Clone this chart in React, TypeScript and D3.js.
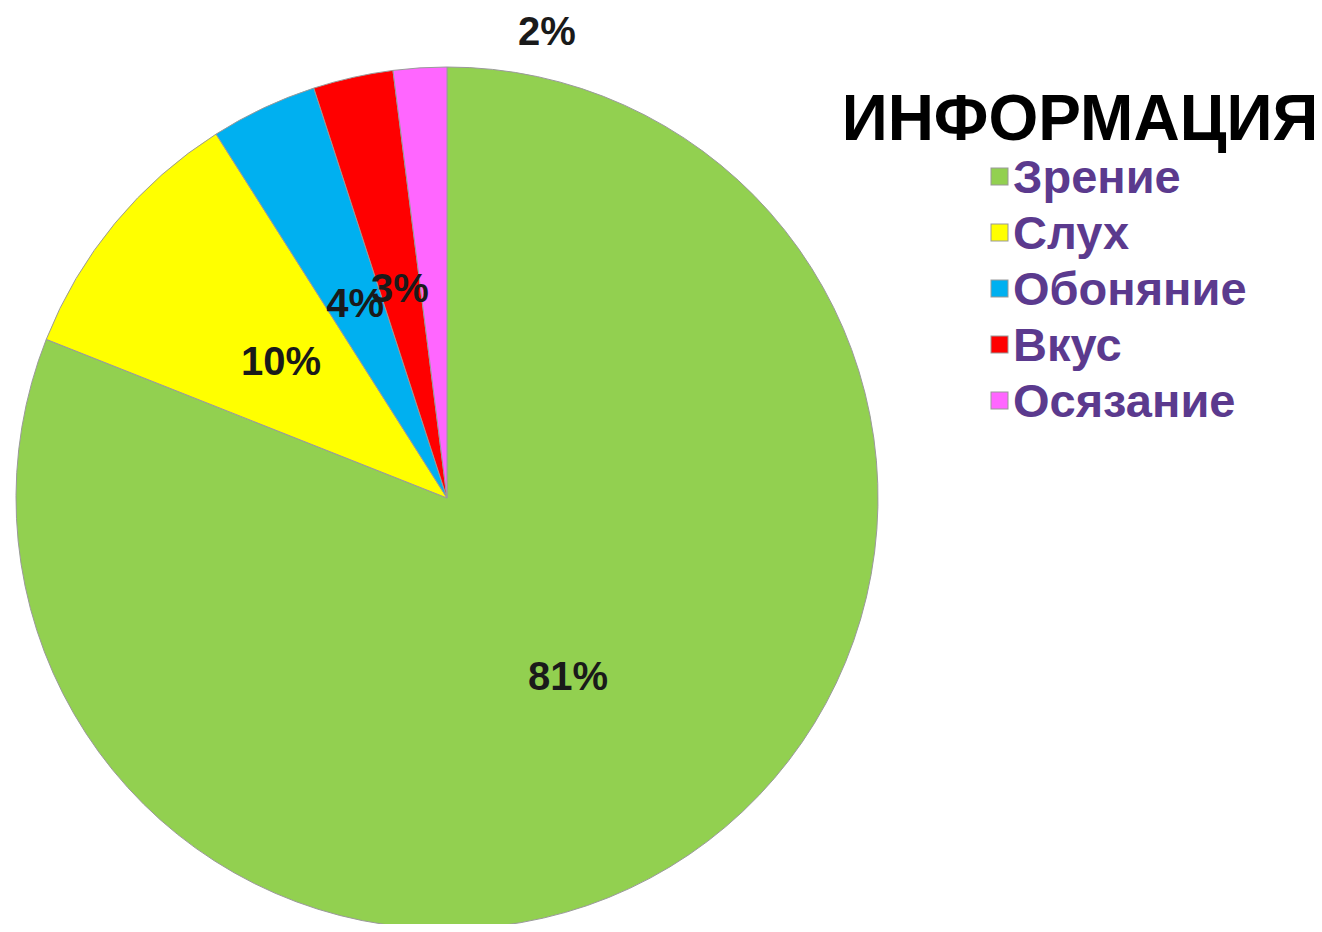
import * as d3 from 'd3';

const categories = ['Зрение', 'Слух', 'Обоняние', 'Вкус', 'Осязание'];
const values = [81, 10, 4, 3, 2];
const colors = ['#92d050', '#ffff00', '#00b0f0', '#ff0000', '#ff66ff'];
const legendTitle = 'ИНФОРМАЦИЯ';

const W = 1322;
const H = 932;
const cx = 447;
const cy = 498;
const radius = 431;

export default function App() {
  const data = categories.map((name, i) => ({ name, value: values[i], color: colors[i] }));
  const pie = d3.pie<(typeof data)[number]>().sort(null).value((d) => d.value);
  const arcs = pie(data);
  const arc = d3.arc<d3.PieArcDatum<(typeof data)[number]>>().innerRadius(0).outerRadius(radius);
  const labelArc = d3.arc<d3.PieArcDatum<(typeof data)[number]>>().innerRadius(radius).outerRadius(0);

  const legendY = d3.scaleBand<string>().domain(categories).range([148, 428]);

  return (
    <div style={{ margin: -8 }}>
      <svg width={W} height={H} style={{ display: 'block', fontFamily: '"Liberation Sans", Arial, sans-serif' }}>
        <rect width={W} height={H} fill="#fff" />
        <g transform={`translate(${cx},${cy})`}>
          {arcs.map((a) => (
            <path key={a.data.name} d={arc(a) || ''} fill={a.data.color} stroke="#9a9a9a" strokeWidth={1} />
          ))}
          {arcs.map((a, i) => {
            let [x, y] = labelArc.centroid(a);
            // last small slice label sits outside, above the pie
            if (i === arcs.length - 1) {
              x = 100;
              y = -radius - 36;
            }
            return (
              <text
                key={'l' + a.data.name}
                x={x}
                y={y}
                textAnchor="middle"
                dominantBaseline="central"
                fontSize={40}
                fontWeight="bold"
                fill="#1a1a1a"
              >
                {a.data.value}%
              </text>
            );
          })}
        </g>
        <text x={1080} y={140} textAnchor="middle" fontSize={64} fontWeight="bold" fill="#000">
          {legendTitle}
        </text>
        {data.map((d) => {
          const y = (legendY(d.name) || 0) + legendY.bandwidth() / 2;
          return (
            <g key={'lg' + d.name}>
              <rect x={991} y={y - 8} width={17} height={17} fill={d.color} stroke="#999" strokeWidth={1} />
              <text x={1013} y={y} dominantBaseline="central" fontSize={47} fontWeight="bold" fill="#5b3a8e">
                {d.name}
              </text>
            </g>
          );
        })}
      </svg>
    </div>
  );
}
